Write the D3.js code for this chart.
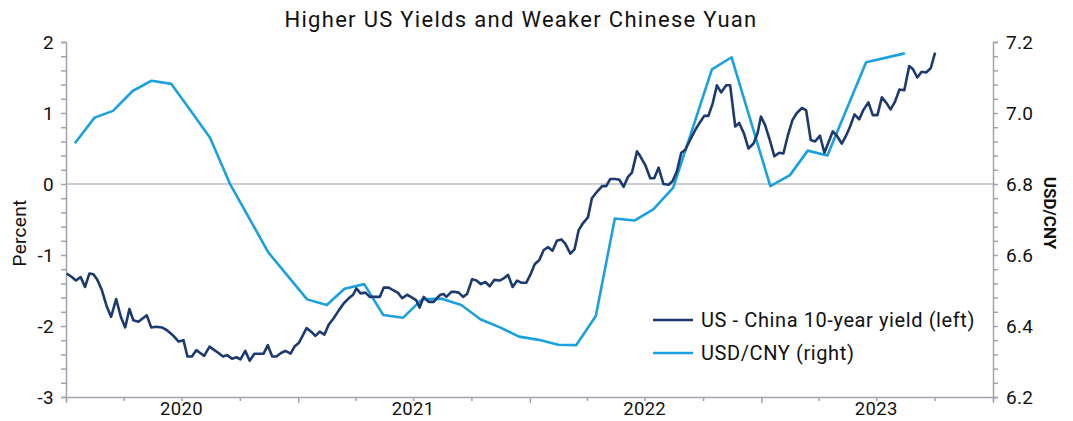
<!DOCTYPE html>
<html>
<head>
<meta charset="utf-8">
<script src="https://cdn.jsdelivr.net/npm/d3@7"></script>
<style>
  html, body { margin: 0; padding: 0; background: #fff; }
  svg { display: block; font-family: Roboto, "Noto Sans", sans-serif; }
</style>
</head>
<body>
<svg id="chart" width="1073" height="421"></svg>
<script>
// ---- Data ----
const title = "Higher US Yields and Weaker Chinese Yuan";
const yearLabels = ["2020", "2021", "2022", "2023"];
const seriesNames = ["US - China 10-year yield (left)", "USD/CNY (right)"];
const leftTitle = "Percent";
const rightTitle = "USD/CNY";

// US - China 10-year yield spread (weekly, time as decimal year)
const spreadTime = [
  2020.003,2020.025,2020.043,2020.063,2020.082,2020.101,2020.118,2020.135,2020.154,2020.176,
  2020.194,2020.216,2020.236,2020.255,2020.273,2020.290,2020.312,2020.331,2020.348,2020.367,
  2020.388,2020.413,2020.435,2020.460,2020.485,2020.506,2020.523,2020.542,2020.561,2020.578,
  2020.595,2020.618,2020.639,2020.657,2020.676,2020.693,2020.715,2020.734,2020.751,2020.772,
  2020.791,2020.811,2020.830,2020.851,2020.869,2020.888,2020.906,2020.926,2020.945,2020.967,
  2020.984,2021.002,2021.017,2021.036,2021.056,2021.074,2021.093,2021.113,2021.132,2021.153,
  2021.175,2021.197,2021.218,2021.237,2021.251,2021.269,2021.290,2021.309,2021.329,2021.352,
  2021.369,2021.391,2021.412,2021.430,2021.449,2021.470,2021.492,2021.510,2021.524,2021.542,
  2021.563,2021.585,2021.604,2021.614,2021.628,2021.640,2021.661,2021.679,2021.693,2021.712,
  2021.729,2021.751,2021.769,2021.789,2021.808,2021.827,2021.847,2021.870,2021.887,2021.906,
  2021.926,2021.945,2021.963,2021.985,2022.002,2022.021,2022.041,2022.060,2022.079,2022.098,
  2022.117,2022.136,2022.153,2022.175,2022.193,2022.211,2022.230,2022.251,2022.268,2022.290,
  2022.312,2022.330,2022.347,2022.369,2022.387,2022.405,2022.424,2022.441,2022.463,2022.477,
  2022.498,2022.520,2022.537,2022.556,2022.577,2022.599,2022.616,2022.635,2022.654,2022.671,
  2022.692,2022.714,2022.733,2022.753,2022.771,2022.790,2022.808,2022.826,2022.848,2022.865,
  2022.887,2022.904,2022.925,2022.944,2022.966,2022.983,2022.998,2023.016,2023.038,2023.056,
  2023.077,2023.095,2023.114,2023.134,2023.153,2023.175,2023.193,2023.213,2023.232,2023.253,
  2023.272,2023.289,2023.308,2023.326,2023.347,2023.364,2023.383,2023.402,2023.422,2023.440,
  2023.462,2023.481,2023.501,2023.520,2023.538,2023.558,2023.577,2023.596,2023.617,2023.638,
  2023.654,2023.673,2023.692,2023.711,2023.731,2023.750
];
const spreadValues = [
  -1.26,-1.31,-1.36,-1.31,-1.45,-1.26,-1.27,-1.35,-1.49,-1.73,
  -1.87,-1.62,-1.87,-2.02,-1.76,-1.92,-1.94,-1.89,-1.85,-2.02,
  -2.01,-2.02,-2.06,-2.13,-2.22,-2.20,-2.43,-2.43,-2.34,-2.38,
  -2.42,-2.29,-2.34,-2.38,-2.43,-2.41,-2.46,-2.44,-2.47,-2.35,
  -2.49,-2.39,-2.39,-2.39,-2.27,-2.43,-2.43,-2.38,-2.35,-2.39,
  -2.29,-2.24,-2.15,-2.03,-2.08,-2.14,-2.08,-2.12,-1.98,-1.89,
  -1.78,-1.68,-1.61,-1.56,-1.47,-1.54,-1.53,-1.59,-1.59,-1.59,
  -1.46,-1.46,-1.50,-1.53,-1.61,-1.56,-1.60,-1.64,-1.74,-1.59,
  -1.66,-1.66,-1.59,-1.56,-1.55,-1.59,-1.52,-1.52,-1.53,-1.59,
  -1.55,-1.34,-1.36,-1.41,-1.38,-1.44,-1.35,-1.36,-1.33,-1.28,
  -1.45,-1.36,-1.39,-1.39,-1.28,-1.13,-1.07,-0.93,-0.89,-0.94,
  -0.80,-0.78,-0.84,-0.98,-0.92,-0.65,-0.55,-0.47,-0.20,-0.11,
  -0.03,-0.03,0.07,0.07,0.06,-0.04,0.10,0.16,0.46,0.39,
  0.27,0.08,0.08,0.23,0.00,-0.01,0.04,0.18,0.44,0.48,
  0.62,0.76,0.86,0.96,0.96,1.14,1.39,1.29,1.39,1.39,
  0.81,0.86,0.71,0.50,0.57,0.71,0.95,0.83,0.60,0.39,
  0.44,0.43,0.68,0.90,1.00,1.07,1.04,0.62,0.60,0.68,
  0.44,0.58,0.74,0.68,0.57,0.67,0.81,0.98,0.91,1.04,
  1.15,0.97,0.97,1.22,1.15,1.05,1.16,1.33,1.32,1.66,
  1.62,1.50,1.58,1.57,1.63,1.85
];

// USD/CNY (monthly)
const fxMonths = [
  "2020-01","2020-02","2020-03","2020-04","2020-05","2020-06","2020-07","2020-08","2020-09","2020-11",
  "2021-01","2021-02","2021-03","2021-04","2021-05","2021-06","2021-07","2021-08","2021-09","2021-10",
  "2021-11","2021-12","2022-01","2022-02","2022-03","2022-04","2022-05","2022-06","2022-07","2022-08",
  "2022-10","2022-11","2023-01","2023-02","2023-03","2023-04","2023-06","2023-08"
];
const fxValues = [
  6.915,6.987,7.006,7.062,7.091,7.082,7.008,6.930,6.802,6.607,
  6.475,6.459,6.505,6.518,6.431,6.423,6.475,6.477,6.459,6.419,
  6.396,6.370,6.361,6.347,6.346,6.428,6.703,6.697,6.729,6.790,
  7.123,7.157,6.794,6.825,6.894,6.880,7.143,7.168
];

const leftTicks = [-3, -2, -1, 0, 1, 2];
const rightTicks = [6.2, 6.4, 6.6, 6.8, 7.0, 7.2];

// ---- Layout ----
const svg = d3.select("#chart");
const X0 = 66, X1 = 993, Y0 = 42, Y1 = 397;
const navy = "#1d3a70", sky = "#1ba1de", axisGray = "#a3a3ad";

function decToDate(t) {
  const y = Math.floor(t);
  const a = new Date(y, 0, 1), b = new Date(y + 1, 0, 1);
  return new Date(+a + (t - y) * (b - a));
}
const parseMonth = d3.timeParse("%Y-%m");
const midMonth = s => { const d = parseMonth(s); return new Date(d.getFullYear(), d.getMonth(), 15); };

const x = d3.scaleTime().domain([new Date(2020, 0, 1), new Date(2024, 0, 1)]).range([X0, X1]);
const yL = d3.scaleLinear().domain([-3, 2]).range([Y1, Y0]);
const yR = d3.scaleLinear().domain([6.2, 7.2]).range([Y1, Y0]);

// Title
svg.append("text").attr("x", 521).attr("y", 27).attr("text-anchor", "middle")
  .attr("font-size", 22).attr("letter-spacing", 1.3).attr("fill", "#111").text(title);

// zero line
svg.append("line").attr("x1", X0).attr("x2", X1).attr("y1", yL(0)).attr("y2", yL(0))
  .attr("stroke", "#9b9ba3").attr("stroke-width", 1.2);

// Left axis
const lMinor = d3.range(0, 26).map(i => -3 + i * 0.2);
const gL = svg.append("g").attr("transform", `translate(${X0},0)`)
  .call(d3.axisLeft(yL).tickValues(lMinor).tickSize(5).tickPadding(7)
    .tickFormat(d => leftTicks.some(v => Math.abs(v - d) < 1e-6) ? String(Math.round(d)) : ""));
// Right axis
const rMinor = d3.range(0, 26).map(i => 6.2 + i * 0.04);
const gR = svg.append("g").attr("transform", `translate(${X1},0)`)
  .call(d3.axisRight(yR).tickValues(rMinor).tickSize(5).tickPadding(8)
    .tickFormat(d => rightTicks.some(v => Math.abs(v - d) < 1e-6) ? d.toFixed(1) : ""));
// Bottom axis
const qTicks = d3.timeMonth.every(3).range(new Date(2020, 0, 1), new Date(2024, 0, 2));
const gB = svg.append("g").attr("transform", `translate(0,${Y1})`)
  .call(d3.axisBottom(x).tickValues(qTicks).tickSize(4).tickFormat(""));
gB.selectAll(".tick line").attr("y2", d => d.getMonth() === 0 ? 6 : 4);

[gL, gR, gB].forEach(g => {
  g.select(".domain").attr("stroke", axisGray).attr("stroke-width", 1.5);
  g.selectAll(".tick line").attr("stroke", axisGray).attr("stroke-width", 1.5);
  g.selectAll(".tick text").attr("fill", "#111").attr("font-size", 19).attr("letter-spacing", 0.3)
    .attr("font-family", "Roboto, sans-serif");
});

// Year labels centered mid-year
svg.append("g").selectAll("text").data(yearLabels).join("text")
  .attr("x", d => x(new Date(+d, 6, 1)))
  .attr("y", 415).attr("text-anchor", "middle").attr("font-size", 18.5).attr("letter-spacing", 0.3)
  .attr("fill", "#111").text(d => d);

// Axis titles
svg.append("text").attr("transform", "translate(26,233) rotate(-90)").attr("text-anchor", "middle")
  .attr("font-size", 19).attr("letter-spacing", 0.3).attr("fill", "#111").text(leftTitle);
svg.append("text").attr("transform", "translate(1044,213) rotate(90)").attr("text-anchor", "middle")
  .attr("font-size", 17).attr("font-weight", "bold").attr("fill", "#111").text(rightTitle);

// Lines
const fxData = fxMonths.map((m, i) => ({ d: midMonth(m), v: fxValues[i] }));
const spData = spreadTime.map((t, i) => ({ d: decToDate(t), v: spreadValues[i] }));

svg.append("path").datum(fxData)
  .attr("fill", "none").attr("stroke", sky).attr("stroke-width", 2.6).attr("stroke-linejoin", "round")
  .attr("d", d3.line().x(p => x(p.d)).y(p => yR(p.v)));
svg.append("path").datum(spData)
  .attr("fill", "none").attr("stroke", navy).attr("stroke-width", 2.6).attr("stroke-linejoin", "round")
  .attr("d", d3.line().x(p => x(p.d)).y(p => yL(p.v)));

// Legend
const lg = svg.append("g");
[navy, sky].forEach((c, i) => {
  const yy = 320 + i * 33;
  lg.append("line").attr("x1", 653).attr("x2", 693).attr("y1", yy).attr("y2", yy)
    .attr("stroke", c).attr("stroke-width", 2.6);
  lg.append("text").attr("x", 701).attr("y", yy + 7).attr("font-size", 20).attr("letter-spacing", 0.6)
    .attr("fill", "#111").text(seriesNames[i]);
});
</script>
</body>
</html>
